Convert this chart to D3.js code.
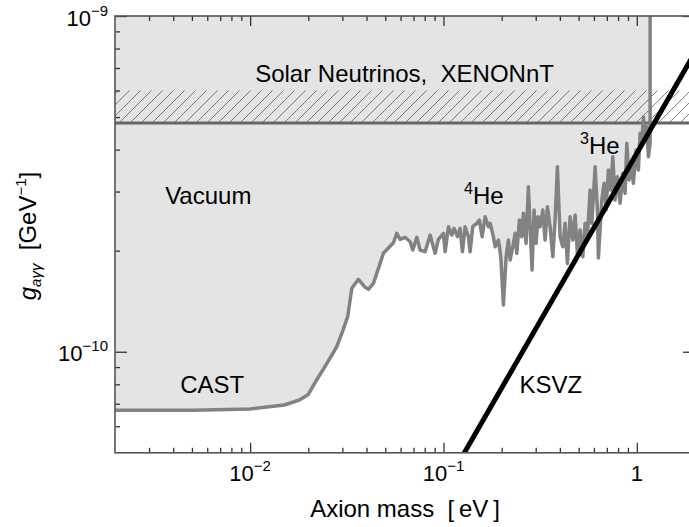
<!DOCTYPE html>
<html><head><meta charset="utf-8">
<script src="https://cdn.jsdelivr.net/npm/d3@7"></script>
<style>
body{margin:0;background:#fff}
svg{display:block}
text{font-family:"Liberation Sans",Arial,Helvetica,sans-serif;fill:#000;white-space:pre}
</style>
</head><body>
<svg id="c" width="689" height="527"></svg>
<script>
// ---- data (mass in eV, coupling in units of 1e-10 GeV^-1) ----
const G_UNIT = 1e-10;
const limitMass = [0.002,0.005,0.01,0.015,0.018,0.02,0.022,0.025,0.028,0.03,0.032,
 0.03357,0.0363,0.03934,0.0409,0.04343,0.04891,0.05508,0.05737,0.05969,0.06334,0.06723,0.06944,0.07281,0.07569,0.08036,0.08531,0.09053,0.09416,0.09993,0.1020,0.1061,
 0.1104,0.1135,0.1181,0.1219,0.1253,0.1294,0.1346,0.1373,0.1418,0.1488,0.1534,
 0.1585,0.1642,0.1708,0.1743,0.1813,0.185,0.1924,0.1979,0.2042,0.2109,0.2168,0.2212,0.2284,0.2348,0.2395,0.2471,0.2542,0.2591,0.2675,0.2749,0.2806,0.2873,0.2942,0.3013,0.3086,0.3161,0.3265,0.3355,0.3448,0.356,0.3678,0.3779,0.3884,0.4012,
 0.4143,0.4258,0.4376,0.4519,0.4667,0.4797,0.4929,0.5088,0.5256,0.5404,0.5553,0.5735,0.5852,0.6086,0.6254,0.6329,0.6592,0.6775,0.6938,0.7131,0.7338,0.7513,0.7722,0.7936,0.8196,0.8466,0.8699,0.8877,0.9124,0.9344,0.9603,0.9917,1.019,1.040,1.061,1.082,1.104,1.126,1.148,1.172];
const limitG = [0.670,0.670,0.675,0.694,0.718,0.746,0.821,0.925,1.033,1.145,1.277,
 1.545,1.643,1.555,1.534,1.598,1.964,2.112,2.253,2.162,2.192,2.127,2.009,2.192,2.009,1.986,2.226,1.964,2.162,2.253,1.986,2.357,
 2.226,2.331,2.201,2.331,1.986,2.357,2.201,1.986,2.357,2.412,2.467,
 2.201,2.524,2.357,2.412,2.201,2.055,2.151,1.919,1.378,1.919,2.151,1.876,2.055,2.253,1.964,2.467,2.201,2.584,2.103,3.10,2.357,1.751,2.643,2.103,2.524,2.357,2.643,2.151,2.703,2.357,1.919,2.467,3.556,2.201,
 2.055,2.412,1.833,2.524,2.151,2.554,1.964,2.304,1.919,2.412,2.201,3.031,2.412,3.556,2.643,1.902,2.83,3.175,2.643,3.477,3.031,3.809,2.83,3.321,2.768,3.4,2.963,4.176,3.246,3.64,3.175,3.99,3.477,4.473,4.176,5.012,4.37,4.68,3.809,4.176];
const cutoffMass = 1.172;
const ksvzMass = [0.1, 2];
const ksvzG = [0.39, 7.8];
const xenonG = 4.8;
const xenonBandTopG = 6.0;
const massDomain = [0.002, 2];
const gDomain = [0.5, 10];
const xMajor = [0.01, 0.1, 1];
const xMajorLabels = [["10","−2"],["10","−1"],["1",""]];
const yMajor = [1, 10];
const yMajorLabels = [["10","−10"],["10","−9"]];
const textLabels = [
  {t:"Solar Neutrinos,  XENONnT", m:0.01062, g:6.36},
  {t:"Vacuum", m:0.003634, g:2.754},
  {t:"CAST", m:0.004345, g:0.752},
  {t:"KSVZ", m:0.2471, g:0.752}
];

// ---- layout ----
const L=115, R=695, T=16, B=452.8;
const svg = d3.select("#c");
const x = d3.scaleLog().domain(massDomain).range([L,R]);
const y = d3.scaleLog().domain(gDomain.map(v=>v*G_UNIT)).range([B,T]);
const gy = v => y(v*G_UNIT);

const defs = svg.append("defs");
defs.append("clipPath").attr("id","plot").append("rect")
  .attr("x",L).attr("y",T).attr("width",R-L).attr("height",B-T);
const pat = defs.append("pattern").attr("id","hatch").attr("patternUnits","userSpaceOnUse")
  .attr("width",11).attr("height",11);
pat.append("path").attr("d","M0,11 L11,0 M-3,3 L3,-3 M8,14 L14,8")
  .attr("stroke","#555").attr("stroke-width",0.75);

const plot = svg.append("g").attr("clip-path","url(#plot)");

const pts = limitMass.map((m,i)=>[m, limitG[i]]);
// shaded excluded region
const area = [[massDomain[0], gDomain[1]], ...pts, [cutoffMass, gDomain[1]]];
plot.append("path")
  .attr("d", d3.line().x(d=>x(d[0])).y(d=>gy(d[1]))(area)+"Z")
  .attr("fill","#e4e4e4").attr("stroke","none");

// hatched XENONnT band
plot.append("rect")
  .attr("x",L).attr("width",R-L)
  .attr("y",gy(xenonBandTopG)).attr("height",gy(xenonG)-gy(xenonBandTopG))
  .attr("fill","url(#hatch)");
plot.append("line")
  .attr("x1",L).attr("x2",R).attr("y1",gy(xenonG)).attr("y2",gy(xenonG))
  .attr("stroke","#666").attr("stroke-width",3);

// limit curve
const curve = [...pts, [cutoffMass, gDomain[1]]];
plot.append("path")
  .attr("d", d3.line().x(d=>x(d[0])).y(d=>gy(d[1]))(curve))
  .attr("fill","none").attr("stroke","#828282").attr("stroke-width",3.5).attr("stroke-linejoin","round");

// KSVZ line
plot.append("path")
  .attr("d", d3.line().x(d=>x(d[0])).y(d=>gy(d[1]))(ksvzMass.map((m,i)=>[m,ksvzG[i]])))
  .attr("fill","none").attr("stroke","#000").attr("stroke-width",5);

// ---- axes ----
const xMinor=[], yMinor=[];
[0.001,0.01,0.1,1].forEach(d=>{for(let k=2;k<=9;k++){const v=d*k; if(v>massDomain[0]&&v<massDomain[1]) xMinor.push(v);}});
[0.1,1].forEach(d=>{for(let k=2;k<=9;k++){const v=d*k; if(v>gDomain[0]&&v<gDomain[1]) yMinor.push(v*G_UNIT);}});
const yMaj = yMajor.map(v=>v*G_UNIT);

function styleAxis(g){ g.select(".domain").remove(); g.selectAll("line").attr("stroke","#333").attr("stroke-width",1.3); g.selectAll("text").remove(); }
svg.append("g").attr("transform",`translate(0,${B})`).call(d3.axisBottom(x).tickValues(xMajor).tickSize(-10)).call(styleAxis);
svg.append("g").attr("transform",`translate(0,${B})`).call(d3.axisBottom(x).tickValues(xMinor).tickSize(-5)).call(styleAxis);
svg.append("g").attr("transform",`translate(0,${T})`).call(d3.axisTop(x).tickValues(xMajor).tickSize(-10)).call(styleAxis);
svg.append("g").attr("transform",`translate(0,${T})`).call(d3.axisTop(x).tickValues(xMinor).tickSize(-5)).call(styleAxis);
svg.append("g").attr("transform",`translate(${L},0)`).call(d3.axisLeft(y).tickValues(yMaj).tickSize(-12)).call(styleAxis);
svg.append("g").attr("transform",`translate(${L},0)`).call(d3.axisLeft(y).tickValues(yMinor).tickSize(-5)).call(styleAxis);
svg.append("g").attr("transform",`translate(${R},0)`).call(d3.axisRight(y).tickValues(yMaj).tickSize(-12)).call(styleAxis);
svg.append("g").attr("transform",`translate(${R},0)`).call(d3.axisRight(y).tickValues(yMinor).tickSize(-5)).call(styleAxis);

// frame
svg.append("rect").attr("x",L).attr("y",T).attr("width",R-L).attr("height",B-T)
  .attr("fill","none").attr("stroke","#555").attr("stroke-width",1.6);

// tick labels
function supLabel(sel, base, sup){
  sel.append("tspan").text(base);
  if(sup) sel.append("tspan").attr("dy",-10).attr("font-size",15).text(sup);
}
xMajor.forEach((v,i)=>{
  const t=svg.append("text").attr("x",x(v)).attr("y",481).attr("text-anchor","middle").attr("font-size",22);
  supLabel(t, xMajorLabels[i][0], xMajorLabels[i][1]);
});
yMaj.forEach((v,i)=>{
  const t=svg.append("text").attr("x",108).attr("y",y(v)+9.5).attr("text-anchor","end").attr("font-size",22);
  supLabel(t, yMajorLabels[i][0], yMajorLabels[i][1]);
});

// axis titles
svg.append("text").attr("x",405).attr("y",517).attr("text-anchor","middle").attr("font-size",24)
  .text("Axion mass  [\u2009eV\u2009]");
const yt = svg.append("text").attr("transform","translate(36,236) rotate(-90)").attr("text-anchor","middle").attr("font-size",24);
yt.append("tspan").attr("font-style","italic").text("g");
yt.append("tspan").attr("font-style","italic").attr("font-size",15).attr("dy",5).text("aγγ");
yt.append("tspan").attr("dy",-5).text("  [GeV");
yt.append("tspan").attr("font-size",15).attr("dy",-10).text("−1");
yt.append("tspan").attr("dy",10).text("]");

// in-plot labels
textLabels.forEach(d=>{
  svg.append("text").attr("x",x(d.m)).attr("y",gy(d.g)).attr("font-size",24).text(d.t);
});
const he4 = svg.append("text").attr("x",464).attr("y",203.5).attr("font-size",24);
he4.append("tspan").attr("font-size",16).attr("dy",-10).text("4");
he4.append("tspan").attr("dy",10).text("He");
const he3 = svg.append("text").attr("x",580).attr("y",153.5).attr("font-size",24);
he3.append("tspan").attr("font-size",16).attr("dy",-10).text("3");
he3.append("tspan").attr("dy",10).text("He");
</script>
</body></html>
